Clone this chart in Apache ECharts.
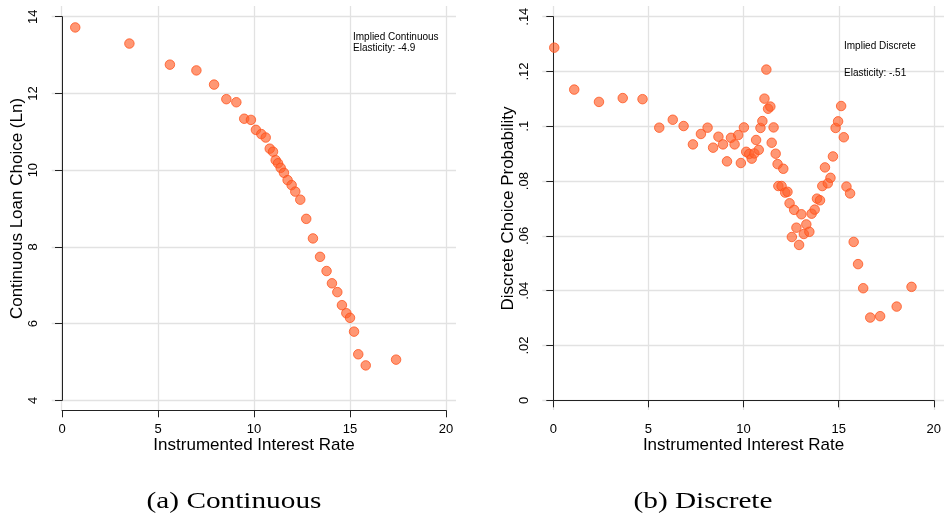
<!DOCTYPE html>
<html>
<head>
<meta charset="utf-8">
<script src="https://cdn.jsdelivr.net/npm/echarts@6/dist/echarts.min.js"></script>
<style>
  html, body { margin: 0; padding: 0; background: #fff; }
  #chart { width: 944px; height: 519px; }
</style>
</head>
<body>
<div id="chart"></div>
<script>
// Panel (a): continuous loan choice vs instrumented interest rate
const contRate = [0.69, 3.51, 5.62, 7.00, 7.92, 8.56, 9.08, 9.49, 9.84, 10.10, 10.38, 10.61, 10.82, 10.99,
  11.13, 11.25, 11.39, 11.56, 11.75, 11.96, 12.15, 12.41, 12.72, 13.07, 13.44, 13.78, 14.06, 14.34,
  14.58, 14.81, 15.00, 15.21, 15.43, 15.82, 17.40];
const contLoan = [13.72, 13.30, 12.75, 12.60, 12.23, 11.85, 11.77, 11.34, 11.31, 11.05, 10.94, 10.85, 10.56, 10.48,
  10.26, 10.18, 10.06, 9.93, 9.74, 9.61, 9.44, 9.23, 8.73, 8.22, 7.74, 7.37, 7.05, 6.82,
  6.48, 6.27, 6.15, 5.79, 5.20, 4.91, 5.06];

// Panel (b): discrete choice probability vs instrumented interest rate
const discRate = [0.05, 1.10, 2.40, 3.65, 4.69, 5.57, 6.28, 6.85, 7.34, 7.76, 8.11, 8.40, 8.68, 8.92,
  9.13, 9.34, 9.53, 9.72, 9.86, 10.02, 10.14, 10.30, 10.43, 10.57, 10.66, 10.80, 10.89, 10.99,
  11.10, 11.20, 11.29, 11.41, 11.48, 11.58, 11.69, 11.79, 11.83, 12.00, 12.09, 12.19, 12.31, 12.42,
  12.54, 12.66, 12.78, 12.92, 13.04, 13.17, 13.30, 13.46, 13.58, 13.74, 13.86, 14.02, 14.14, 14.28,
  14.43, 14.57, 14.70, 14.84, 14.97, 15.13, 15.27, 15.41, 15.60, 15.79, 16.02, 16.29, 16.66, 17.18,
  18.05, 18.83];
const discProb = [0.1287, 0.1134, 0.1089, 0.1103, 0.1099, 0.0995, 0.1024, 0.1001, 0.0934, 0.0972, 0.0995, 0.0922, 0.0962, 0.0934,
  0.0872, 0.0958, 0.0934, 0.0968, 0.0866, 0.0996, 0.0907, 0.0899, 0.0882, 0.0901, 0.0950, 0.0914, 0.0994, 0.1019,
  0.1101, 0.1207, 0.1064, 0.1072, 0.0940, 0.0996, 0.0900, 0.0862, 0.0782, 0.0782, 0.0845, 0.0758, 0.0761, 0.0719,
  0.0596, 0.0695, 0.0630, 0.0567, 0.0679, 0.0607, 0.0642, 0.0615, 0.0681, 0.0696, 0.0736, 0.0730, 0.0782, 0.0850,
  0.0792, 0.0812, 0.0890, 0.0994, 0.1018, 0.1074, 0.0960, 0.0780, 0.0755, 0.0578, 0.0497, 0.0409, 0.0302, 0.0307,
  0.0342, 0.0414];

// Tick values
const rateTicks = [0, 5, 10, 15, 20];
const loanTicks = [4, 6, 8, 10, 12, 14];
const probTicks = [0, 0.02, 0.04, 0.06, 0.08, 0.10, 0.12, 0.14];

const zip = (xs, ys) => xs.map((x, i) => [x, ys[i]]);
// Stata-style labels: drop the leading zero and trailing zeros (.1, .12, 0)
const stataNum = v => {
  if (v === 0) return '0';
  return String(+v.toFixed(4)).replace(/^0\./, '.').replace(/^-0\./, '-.');
};

const sans = 'Liberation Sans, Arial, Helvetica, sans-serif';
const gridColor = '#e2e2e2';
const axisColor = '#222';

const dotStyle = {
  color: 'rgba(255, 96, 42, 0.82)',
  borderColor: 'rgba(255, 80, 25, 0.95)',
  borderWidth: 1
};

// Gridline axes: span the whole plot region, lines at the tick values only
function gridX(gridIndex, min, max) {
  return {
    type: 'value', gridIndex, min, max,
    axisLine: { show: false },
    axisTick: { show: false, customValues: rateTicks },
    axisLabel: { show: false, customValues: rateTicks },
    splitLine: { show: true, lineStyle: { color: gridColor, width: 1.3 } }
  };
}
function gridY(gridIndex, min, max, ticks) {
  return {
    type: 'value', gridIndex, min, max,
    axisLine: { show: false },
    axisTick: { show: false, customValues: ticks },
    axisLabel: { show: false, customValues: ticks },
    splitLine: { show: true, lineStyle: { color: gridColor, width: 1.3 } }
  };
}

// Visible axes: lines spanning only the tick range, pushed out from the plot area
function dataX(gridIndex) {
  return {
    type: 'value', gridIndex, min: 0, max: 20, interval: 5, offset: 10,
    name: 'Instrumented Interest Rate', nameLocation: 'middle', nameGap: 27, nameMoveOverlap: false,
    nameTextStyle: { fontFamily: sans, fontSize: 17, color: '#000', verticalAlign: 'top' },
    axisLine: { show: true, lineStyle: { color: axisColor, width: 1 } },
    axisTick: { show: true, length: 7, lineStyle: { color: axisColor } },
    axisLabel: { margin: 13, fontFamily: sans, fontSize: 13, color: '#000' },
    splitLine: { show: false }
  };
}
function dataY(gridIndex, min, max, interval, name, fmt) {
  return {
    type: 'value', gridIndex, min, max, interval, offset: 10,
    name, nameLocation: 'middle', nameGap: 26,
    nameTextStyle: { fontFamily: sans, fontSize: 17, color: '#000' },
    axisLine: { show: true, lineStyle: { color: axisColor, width: 1 } },
    axisTick: { show: true, length: 7, lineStyle: { color: axisColor } },
    axisLabel: { rotate: 90, margin: 12, fontFamily: sans, fontSize: 13, color: '#000', formatter: fmt },
    splitLine: { show: false }
  };
}

const chart = echarts.init(document.getElementById('chart'), null, { renderer: 'canvas' });

chart.setOption({
  animation: false,
  backgroundColor: '#fff',
  grid: [
    // (a) data grid and its gridline region
    { left: 62, top: 16.7, width: 384, height: 383.6 },
    { left: 51.7, top: 6, width: 404.3, height: 404 },
    // (b) data grid and its gridline region
    { left: 553.3, top: 16.7, width: 383.4, height: 383.6 },
    { left: 542.3, top: 6, width: 404.4, height: 404 }
  ],
  xAxis: [
    dataX(0),
    gridX(1, -10 / 19.2, 20 + 10 / 19.2),
    dataX(2),
    gridX(3, -11 / 19.17, 20 + 10 / 19.17)
  ],
  yAxis: [
    dataY(0, 4, 14, 2, 'Continuous Loan Choice (Ln)', v => String(v)),
    gridY(1, 4 - 9.7 / 38.36, 14 + 10.7 / 38.36, loanTicks),
    dataY(2, 0, 0.14, 0.02, 'Discrete Choice Probability', stataNum),
    gridY(3, -9.7 / 2740, 0.14 + 10.7 / 2740, probTicks)
  ],
  title: [
    {
      text: 'Implied Continuous\nElasticity: -4.9',
      left: 353, top: 31, padding: 0,
      textStyle: { fontFamily: sans, fontSize: 10, fontWeight: 'normal', color: '#000', lineHeight: 11.7 }
    },
    {
      text: 'Implied Discrete\n\nElasticity: -.51',
      left: 844, top: 39, padding: 0,
      textStyle: { fontFamily: sans, fontSize: 10, fontWeight: 'normal', color: '#000', lineHeight: 13.7 }
    }
  ],
  graphic: [
    {
      type: 'text', x: 234, y: 502, scaleX: 1.22,
      style: { text: '(a) Continuous', font: '24px "Liberation Serif", "Times New Roman", serif',
               fill: '#000', align: 'center', verticalAlign: 'middle' }
    },
    {
      type: 'text', x: 703, y: 502, scaleX: 1.22,
      style: { text: '(b) Discrete', font: '24px "Liberation Serif", "Times New Roman", serif',
               fill: '#000', align: 'center', verticalAlign: 'middle' }
    }
  ],
  series: [
    {
      type: 'scatter', xAxisIndex: 0, yAxisIndex: 0,
      data: zip(contRate, contLoan), symbolSize: 9.5, itemStyle: dotStyle, z: 5
    },
    {
      type: 'scatter', xAxisIndex: 2, yAxisIndex: 2,
      data: zip(discRate, discProb), symbolSize: 9.5, itemStyle: dotStyle, z: 5
    }
  ]
});
</script>
</body>
</html>
